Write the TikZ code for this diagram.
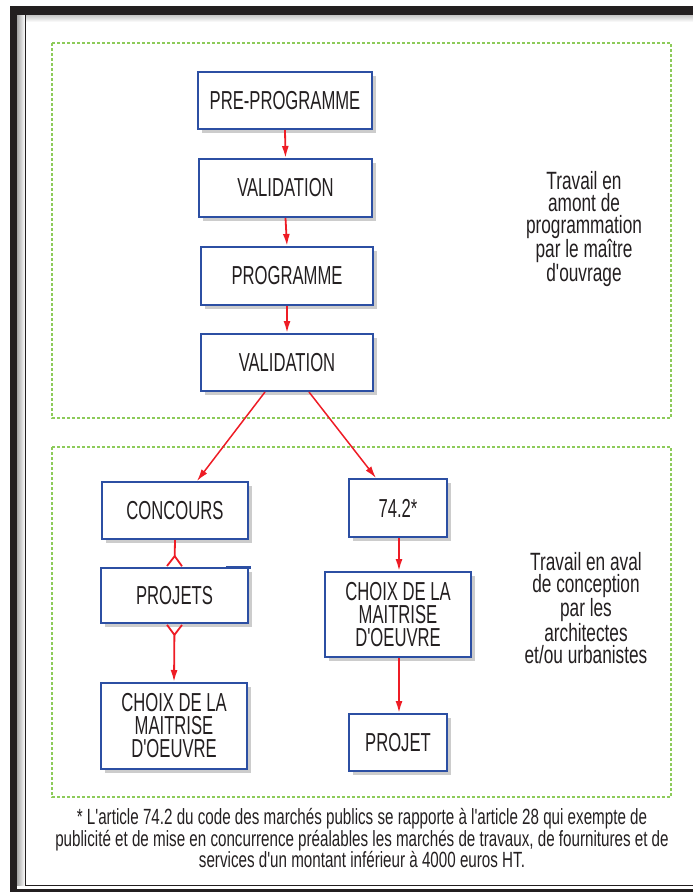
\documentclass[tikz,border=0pt]{standalone}
\usepackage{fontspec}
\usetikzlibrary{arrows.meta,shadows}
\newfontfamily\narrowsans{Liberation Sans}[FakeStretch=0.64]
\newfontfamily\notesans{Liberation Sans}[FakeStretch=0.69]
\definecolor{boxblue}{HTML}{2C4FA3}
\definecolor{arrowred}{HTML}{EE1C25}
\definecolor{zonegreen}{HTML}{8DCB5A}
\definecolor{inkgray}{HTML}{231F20}

\begin{document}
\begin{tikzpicture}[x=1pt,y=-1pt,
  etape/.style={draw=boxblue,line width=2pt,fill=white,
    drop shadow={shadow xshift=4pt,shadow yshift=-4pt,opacity=.4},
    font=\narrowsans\fontsize{26}{23}\selectfont,text=inkgray,align=center,inner sep=0pt},
  fleche/.style={draw=arrowred,line width=1.8pt,-{Latex[length=12pt,width=7pt]}},
  patte/.style={draw=arrowred,line width=1.8pt},
  zone/.style={draw=zonegreen,line width=1.4pt,dash pattern=on 3pt off 2pt},
  legende/.style={font=\notesans\fontsize{25}{22}\selectfont,text=inkgray,align=center}]
  \useasboundingbox (0,0) rectangle (693,892);

  % cadre
  \fill[inkgray](10,6) rectangle (693,15);
  \fill[inkgray](10,6) rectangle (17,892);
  \fill[inkgray](10,889) rectangle (693,892);
  \shade[left color=gray!70,right color=white](17,15) rectangle (25,885);
  \shade[top color=gray!45,bottom color=white](25,15) rectangle (693,22);
  \draw[inkgray,line width=1pt](25,15) -- (25,885) -- (693,885);

  % zones
  \draw[zone](52,43) rectangle (671,418);
  \draw[zone](52,447) rectangle (671,797);

  % amont
  \node[etape,minimum width=174pt,minimum height=57pt] (pre) at (285,100.5) {PRE-PROGRAMME};
  \node[etape,minimum width=173pt,minimum height=58pt] (val1) at (285.5,188) {VALIDATION};
  \node[etape,minimum width=172pt,minimum height=58pt] (prog) at (287,276) {PROGRAMME};
  \node[etape,minimum width=172pt,minimum height=57pt] (val2) at (287,362.5) {VALIDATION};

  % aval
  \node[etape,minimum width=146pt,minimum height=57pt] (conc) at (175,510.5) {CONCOURS};
  \node[etape,minimum width=147pt,minimum height=55pt] (projets) at (174.5,595.5) {PROJETS};
  \node[etape,minimum width=146pt,minimum height=86pt] (choixA) at (174,726) {CHOIX DE LA\\MAITRISE\\D'OEUVRE};
  \node[etape,minimum width=98pt,minimum height=58pt] (art) at (398,508) {74.2*};
  \node[etape,minimum width=146pt,minimum height=85pt] (choixB) at (398,614.5) {CHOIX DE LA\\MAITRISE\\D'OEUVRE};
  \node[etape,minimum width=98pt,minimum height=57pt] (projet) at (398,742.5) {PROJET};
  \draw[boxblue,line width=3pt]([xshift=-23pt]projets.north east) -- ([xshift=2pt]projets.north east);

  \draw[fleche](pre.south) -- (val1.north);
  \draw[fleche](val1.south) -- (prog.north);
  \draw[fleche](prog.south) -- (val2.north);
  \draw[fleche,line width=1.5pt]([xshift=-22pt]val2.south) -- ([xshift=22pt]conc.north);
  \draw[fleche,line width=1.5pt]([xshift=22pt]val2.south) -- ([xshift=-22pt]art.north);
  \draw[patte,-{Straight Barb[reversed,length=10pt,width=15pt]}](conc.south) -- (projets.north);
  \draw[fleche,{Straight Barb[reversed,length=10pt,width=15pt]}-{Latex[length=12pt,width=7pt]}](projets.south) -- (choixA.north);
  \draw[fleche]([xshift=1pt]art.south) -- ([xshift=1pt]choixB.north);
  \draw[fleche]([xshift=1pt]choixB.south) -- ([xshift=1pt]projet.north);

  % commentaires
  \node[legende] (amont) at (584,229) {Travail en\\amont de\\programmation\\par le maître\\d'ouvrage};
  \node[legende] (aval) at (586,608) {Travail en aval\\de conception\\par les\\architectes\\et/ou urbanistes};
  \node[legende,font=\notesans\fontsize{22}{19.5}\selectfont] (note) at (362,838)
    {* L'article 74.2 du code des marchés publics se rapporte à l'article 28 qui exempte de\\
     publicité et de mise en concurrence préalables les marchés de travaux, de fournitures et de\\
     services d'un montant inférieur à 4000 euros HT.};
\end{tikzpicture}
\end{document}
